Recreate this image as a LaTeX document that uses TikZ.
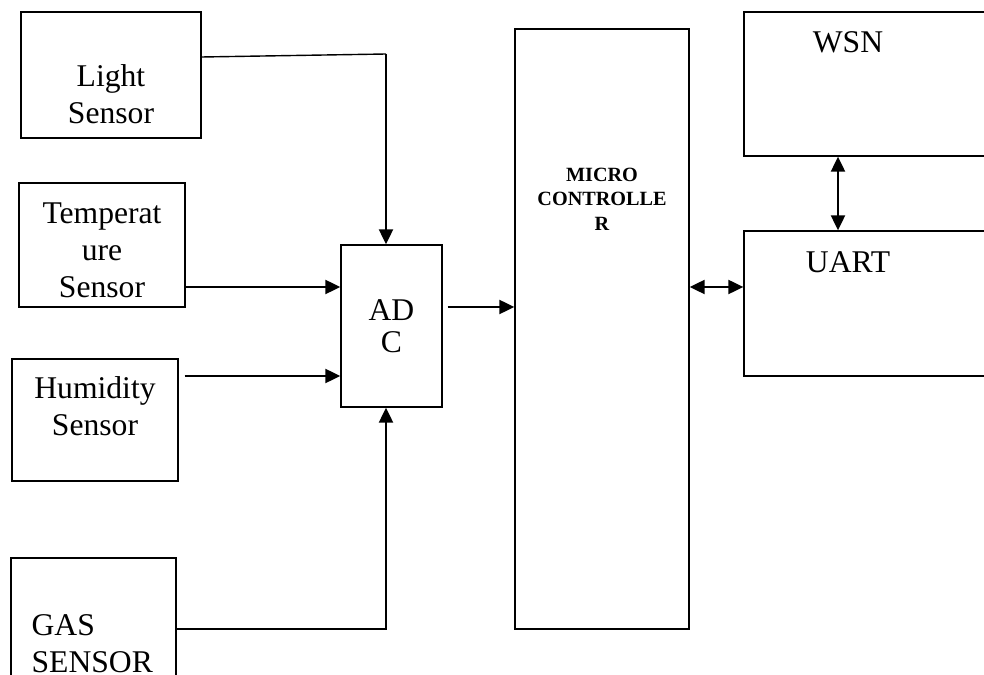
\documentclass[tikz,border=0pt]{standalone}
\usepackage{fontspec}
\setmainfont{Liberation Serif}
\usetikzlibrary{arrows.meta,positioning}
\tikzset{
  box/.style={draw,line width=0.8pt,inner sep=0pt},
  lbl/.style={font=\fontsize{18}{21}\selectfont,align=center,inner sep=0pt},
  arr/.style={line width=1pt,-{Triangle[length=8.5pt,width=8pt]}},
  darr/.style={line width=1pt,{Triangle[length=8.5pt,width=8pt]}-{Triangle[length=8.5pt,width=8pt]}}
}

\begin{document}
\begin{tikzpicture}[x=0.02cm,y=-0.02cm]
%\draw[help lines] (0,0) grid (984,675);
\useasboundingbox (0,0) rectangle (984,675);
\clip (0,0) rectangle (984,675);

% sensors
\node[box,minimum width=3.6cm,minimum height=2.52cm,
  label={[lbl,anchor=north,yshift=-1.06cm]north:{Light\\Sensor}}] (light) at (111,75) {};
\node[box,minimum width=3.32cm,minimum height=2.48cm,
  label={[lbl,anchor=north,yshift=-0.4cm]north:{Temperat\\ure\\Sensor}}] (temp) at (102,245) {};
\node[box,minimum width=3.32cm,minimum height=2.44cm,
  label={[lbl,anchor=north,yshift=-0.36cm]north:{Humidity\\Sensor}}] (humid) at (95,420) {};
\node[box,minimum width=3.3cm,minimum height=2.84cm,
  label={[lbl,align=left,anchor=north west,xshift=0.42cm,yshift=-1.14cm]north west:{GAS\\SENSOR}}] (gas) at (93.5,629) {};

% adc and controller
\node[box,lbl,draw,line width=0.8pt,minimum width=2.02cm,minimum height=3.24cm] (adc) at (391.5,326) {\raisebox{-0.6ex}{AD}\\[0.3ex]C};
\node[box,minimum width=3.48cm,minimum height=12cm,
  label={[lbl,anchor=north,yshift=-2.78cm,font=\fontsize{11.5}{14}\selectfont\bfseries]north:{MICRO\\CONTROLLE\\R}}] (mc) at (602,329) {};

% wireless side
\node[box,minimum width=5.12cm,minimum height=2.88cm,
  label={[lbl,anchor=north,xshift=-0.48cm,yshift=-0.4cm]north:WSN}] (wsn) at (872,84) {};
\node[box,minimum width=5.12cm,minimum height=2.9cm,
  label={[lbl,anchor=north,xshift=-0.48cm,yshift=-0.42cm]north:UART}] (uart) at (872,303.5) {};

\coordinate (lbend) at (386,54);
\draw[line width=0.8pt] (light.east |- 0,57) -- (lbend);
\draw[arr] (lbend) -- (lbend |- adc.north);
\draw[arr] (temp.east |- 0,287) -- (adc.west |- 0,287);
\draw[arr,shorten <=6*0.02cm] (humid.east |- 0,376) -- (adc.west |- 0,376);
\draw[arr] (gas.east) -- (gas.east -| lbend) -- (lbend |- adc.south);
\draw[arr,shorten <=5*0.02cm] (adc.east |- 0,307) -- (mc.west |- 0,307);

\draw[darr] (mc.east |- 0,287) -- (uart.west |- 0,287);
\draw[darr] (wsn.south -| 838,0) -- (uart.north -| 838,0);
\end{tikzpicture}
\end{document}
